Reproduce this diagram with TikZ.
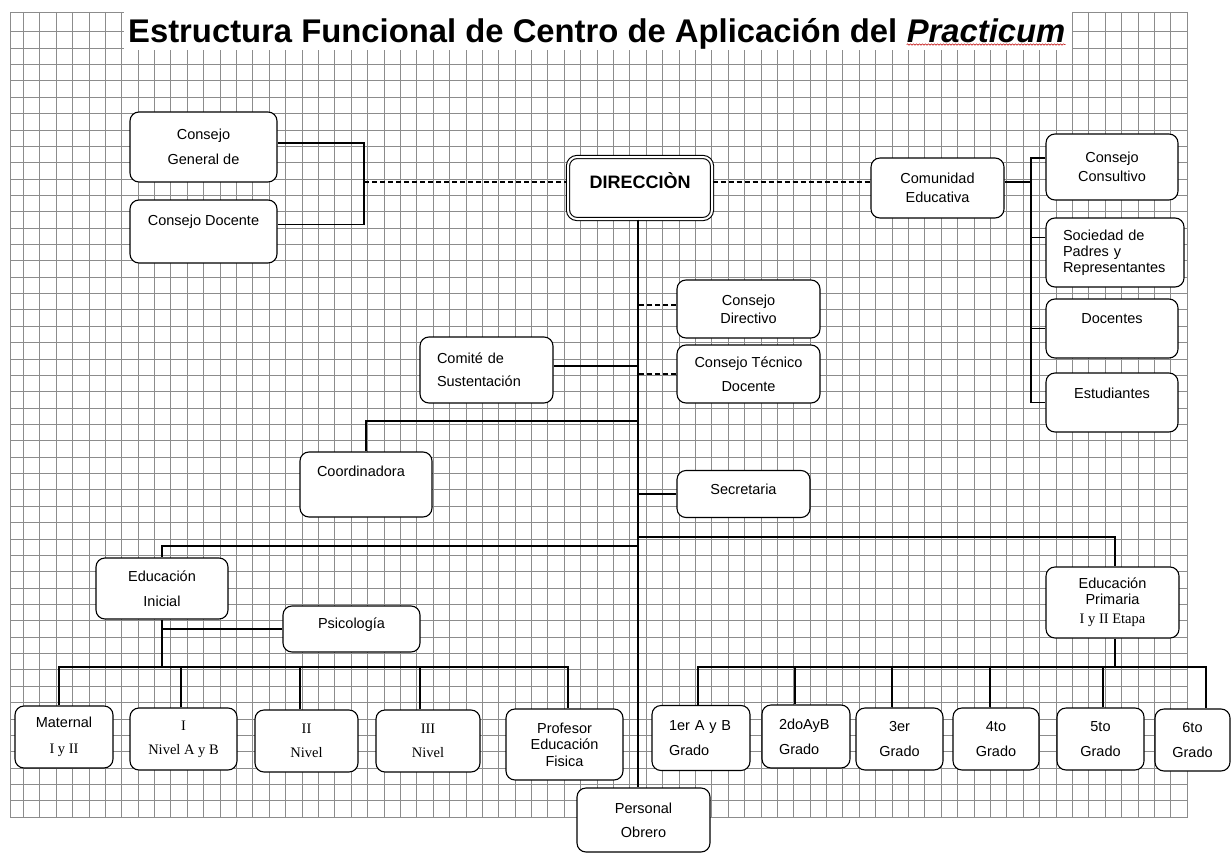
\documentclass[tikz,border=0pt]{standalone}
\usepackage{fontspec}
\setmainfont{Liberation Sans}
\newfontfamily\tnr{Liberation Serif}
\usetikzlibrary{decorations.pathmorphing}
\newcommand\boxfont{\fontsize{14.5}{17}\selectfont}

\tikzset{
  gridln/.style={black!45, line width=0.65pt},
  box/.style={draw, fill=white, line width=1.1pt, rounded corners=9pt,
    inner sep=0pt, align=center, font=\boxfont},
  lbox/.style={box, align=left, inner xsep=17pt},
  serif/.style={font=\boxfont\tnr},
  sz/.style 2 args={minimum width=#1pt, minimum height=#2pt},
  lift/.style={text height=10.4pt, text depth=#1pt},
  link/.style={line width=1.3pt},
  dashlink/.style={line width=1.1pt, dash pattern=on 5pt off 3pt}
}

\begin{document}
\begin{tikzpicture}[x=1pt, y=-1pt]
  \useasboundingbox (0,0) rectangle (1231,856);
  % squared paper
  \foreach \i in {0,...,71}
    \draw[gridln] ({23.3+16.39*\i},12) -- ({23.3+16.39*\i},817);
  \foreach \j in {0,...,48}
    \draw[gridln] (10,{31.7+16.36*\j}) -- (1187,{31.7+16.36*\j});
  \draw[gridln] (10,12) rectangle (1187,817);
  \fill[white] (124,10) rectangle (1072,50);

  \node[anchor=base west, inner sep=0pt, font=\fontsize{32.8}{36}\selectfont\bfseries]
    (ttl) at (128,43) {Estructura Funcional de Centro de Aplicación del};
  \node[anchor=base west, inner sep=0pt, font=\fontsize{32.8}{36}\selectfont\bfseries\itshape]
    (prac) at ([xshift=9.1pt]ttl.base east) {Practicum};
  \draw[red!75!black, line width=0.5pt, decorate,
    decoration={snake, amplitude=0.7pt, segment length=3pt}]
    ([yshift=-1pt]prac.south west) -- ([yshift=-1pt]prac.south east);

  \draw
    (203.5,147) node[box,sz={147}{70}] (cgd) {Consejo\\[8pt]General de}
    (203.5,231.5) node[box,sz={147}{63},lift=23] (cdoc) {Consejo Docente}
    (640,188) node[box,sz={144}{62},double,double distance=2pt,
      font=\fontsize{18}{20}\selectfont\bfseries,text height=12.9pt,text depth=12pt] (dir) {DIRECCIÒN}
    (937.5,188) node[box,sz={133}{60}] (com) {Comunidad\\[2pt]Educativa}
    (1112,167) node[box,sz={132}{66}] (cc) {Consejo\\[2pt]Consultivo}
    (1115,252.5) node[lbox,sz={138}{69},text width=104pt] (spr) {Sociedad de\\[-1pt]Padres y\\[-1pt]Representantes}
    (1112,328.5) node[box,sz={132}{59},lift=20] (doc) {Docentes}
    (1112,402.5) node[box,sz={132}{59},lift=19] (est) {Estudiantes}
    (748.5,309) node[box,sz={143}{58}] (cdir) {Consejo\\[1pt]Directivo}
    (748.5,374) node[box,sz={143}{58}] (ctd) {Consejo Técnico\\[7pt]Docente}
    (486.5,370) node[lbox,sz={133}{66},text width=99pt] (comi) {Comité de\\[6pt]Sustentación}
    (366,484.5) node[lbox,sz={132}{65},text width=98pt,lift=27] (coord) {Coordinadora}
    (743.5,494) node[box,sz={133}{47},lift=10] (sec) {Secretaria}
    (162,588.5) node[box,sz={132}{61}] (ei) {Educación\\[8pt]Inicial}
    (351.5,629) node[box,sz={137}{46},lift=12] (psi) {Psicología}
    (1112.5,602.5) node[box,sz={133}{71}] (ep) {Educación\\[-1pt]Primaria\\[2pt]{\tnr I y II Etapa}}
    (64,737) node[box,sz={98}{62}] (mat) {Maternal\\[9pt]{\tnr I y II}}
    (183.5,739) node[box,serif,sz={107}{62}] (n1) {I\\[7pt]Nivel A y B}
    (306.5,741) node[box,serif,sz={103}{62}] (n2) {II\\[7pt]Nivel}
    (428,741) node[box,serif,sz={104}{62}] (n3) {III\\[7pt]Nivel}
    (564.5,744.5) node[box,sz={117}{71}] (pef) {Profesor\\[-0.5pt]Educación\\[-0.5pt]Fisica}
    (643.5,820) node[box,sz={133}{64}] (po) {Personal\\[7pt]Obrero}
    (701,738) node[lbox,sz={98}{65},text width=64pt] (g1) {1er A y B\\[8pt]Grado}
    (806,736.5) node[lbox,sz={88}{63},text width=54pt] (g2) {2doAyB\\[8pt]Grado}
    (899.5,739) node[box,sz={87}{62}] (g3) {3er\\[8pt]Grado}
    (996,739) node[box,sz={86}{62}] (g4) {4to\\[8pt]Grado}
    (1100.5,739) node[box,sz={87}{62}] (g5) {5to\\[8pt]Grado}
    (1192.5,740) node[box,sz={75}{62}] (g6) {6to\\[8pt]Grado};

  \coordinate (jl) at (364,182);
  \coordinate (jr) at (1031,182);
  \path ([xshift=-2pt]dir.south) coordinate (trk);
  \coordinate (bc) at (638,421);
  \coordinate (br) at (638,537);
  \coordinate (bl) at (638,546);
  \coordinate (busl) at (162,667);
  \coordinate (busr) at (1115,667);

  \begin{scope}[link]
    \draw ([yshift=4pt]cgd.east) -| (jl) |- ([yshift=7pt]cdoc.east);
    \draw (com.east |- jr) -- (jr);
    \draw ([yshift=9pt]cc.west) -| (jr) |- (est.west);
    \draw ([yshift=15pt]spr.west) -- ([yshift=15pt]spr.west -| jr);
    \draw (doc.west) -- (doc.west -| jr);
    \draw (trk) -- (trk |- po.north);
    \draw ([yshift=4pt]comi.east) -- ([yshift=4pt]comi.east -| trk);
    \draw (bc) -| (coord);
    \draw (sec.west) -- (sec.west -| trk);
    \draw (bl) -| (ei);
    \draw (br) -| ([xshift=2.5pt]ep.north);
    \draw (ei.south) -- (busl);
    \draw (psi.west) -- (psi.west -| busl);
    \draw ([xshift=-5pt]mat.north) |- (busl) -| ([xshift=3.5pt]pef.north);
    \foreach \n/\d in {n1/-2.5, n2/-6.5, n3/-8}
      \draw ([xshift=\d pt]\n.north) -- ([xshift=\d pt]\n.north |- busl);
    \draw ([xshift=2.5pt]ep.south) -- (busr);
    \draw ([xshift=-3pt]g1.north) |- (busr) -| ([xshift=13.5pt]g6.north);
    \foreach \n/\d in {g2/-11, g3/-7.5, g4/-6, g5/2.5}
      \draw ([xshift=\d pt]\n.north) -- ([xshift=\d pt]\n.north |- busr);
  \end{scope}
  \draw[dashlink] (jl) -- (jl -| dir.west);
  \draw[dashlink] (dir.east |- jl) -- (com.west |- jl);
  \draw[dashlink] ([yshift=4pt]cdir.west) -- ([yshift=4pt]cdir.west -| trk);
  \draw[dashlink] (ctd.west) -- (ctd.west -| trk);
\end{tikzpicture}
\end{document}
